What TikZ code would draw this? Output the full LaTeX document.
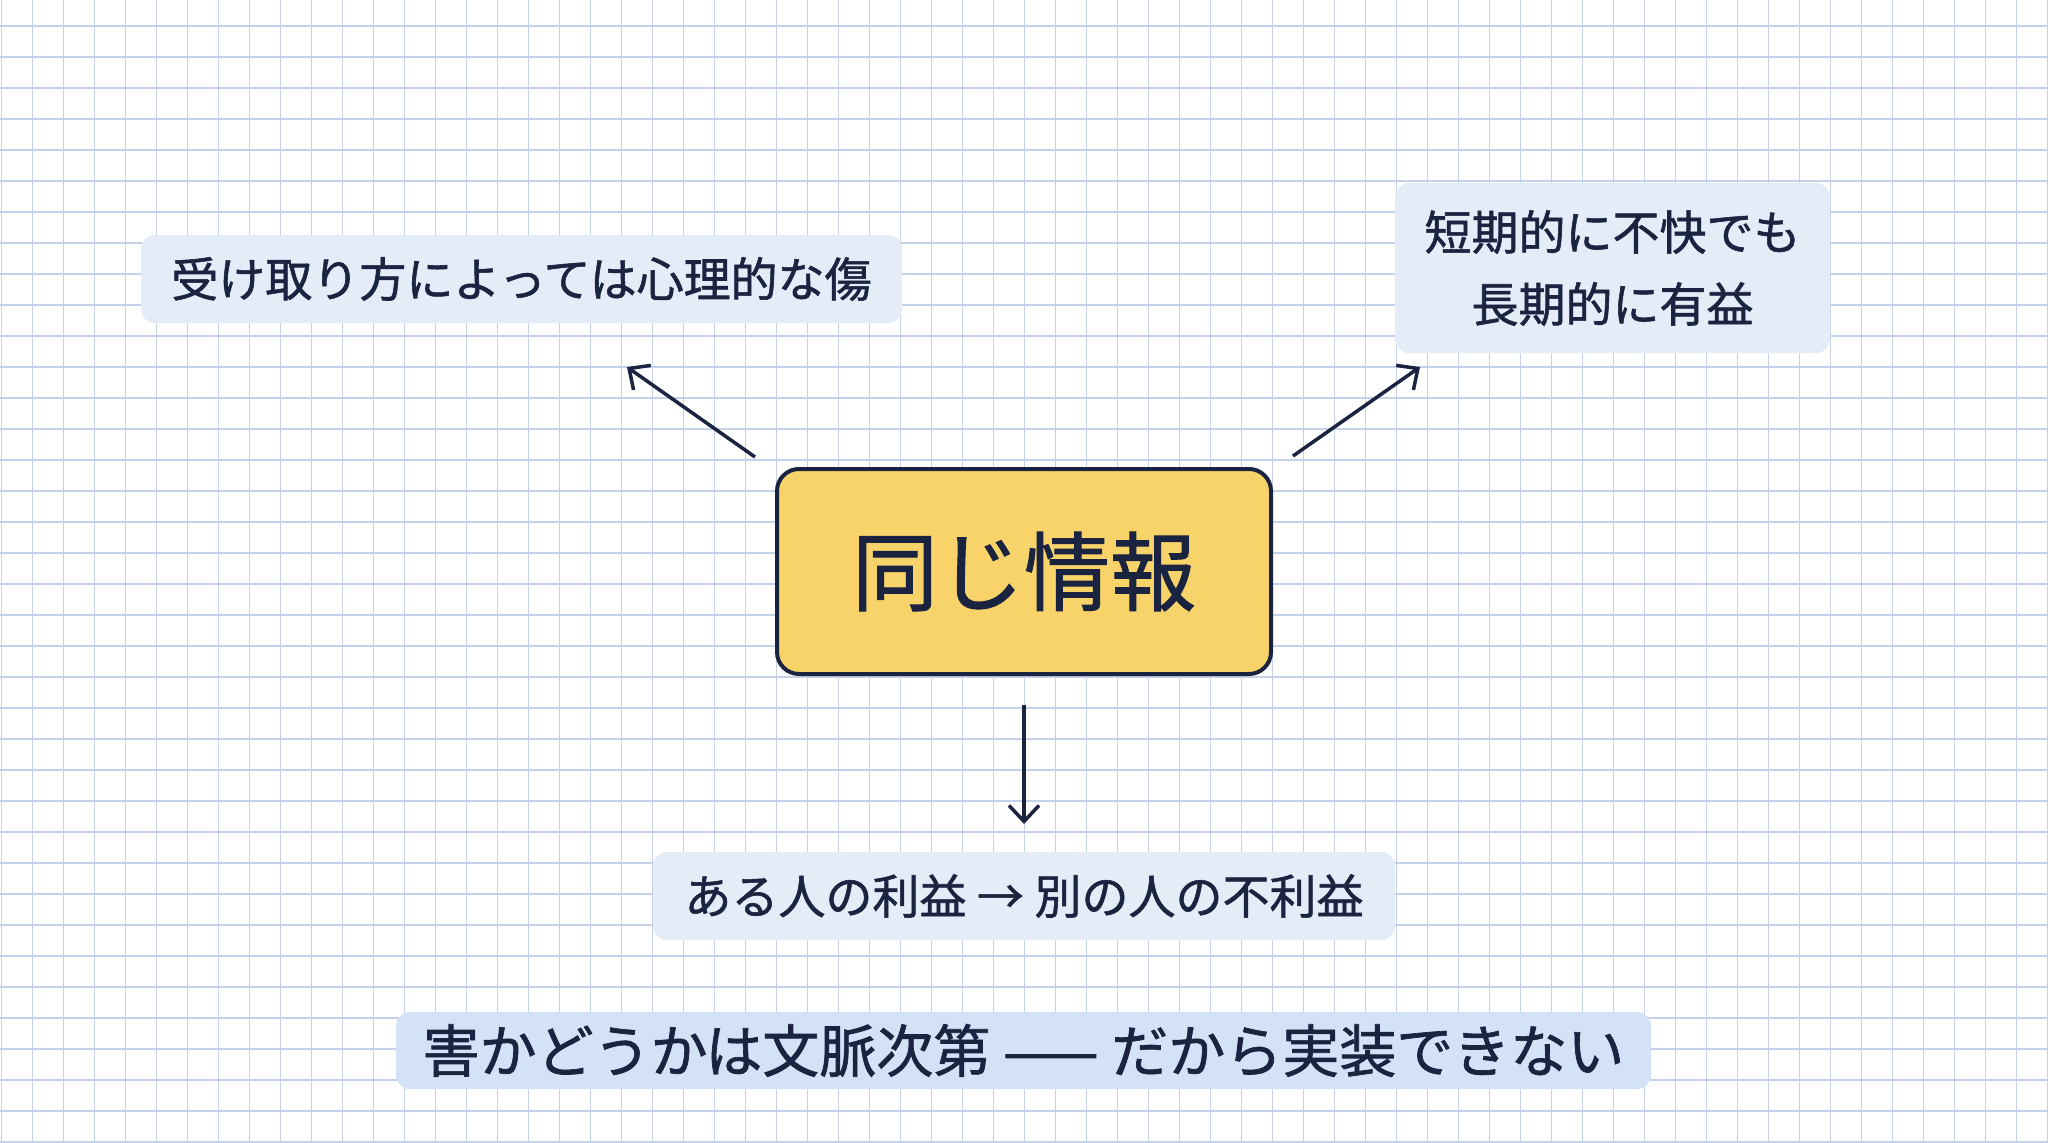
\documentclass[tikz,border=0pt]{standalone}
\usepackage{fontspec}
\setmainfont{Noto Sans CJK JP}
\newfontfamily\medf[FakeBold=1.2]{Noto Sans CJK JP}
\usetikzlibrary{arrows.meta}
\definecolor{navy}{HTML}{1A2440}
\definecolor{gridc}{HTML}{C3D2EA}
\definecolor{pale}{HTML}{E4ECF8}
\definecolor{band}{HTML}{D3E2F7}
\definecolor{gold}{HTML}{F8D36A}
\begin{document}
\begin{tikzpicture}[x=1pt,y=-1pt,
  soft/.style={fill=pale,rounded corners=14pt,text=navy,align=center,inner sep=0pt},
  arr/.style={draw=navy,line width=3.5pt,-{Straight Barb[length=16pt,width=30pt,line width=3.5pt]}}]
\useasboundingbox (0,0) rectangle (2048,1143);
\fill[white] (0,0) rectangle (2048,1143);
\foreach \i in {0,...,66} \draw[gridc,line width=1.6pt] (1.5+31*\i,0) -- (1.5+31*\i,1143);
\foreach \j in {0,...,36} \draw[gridc,line width=1.6pt] (0,26+31*\j) -- (2048,26+31*\j);
\node[soft,minimum width=761pt,minimum height=88pt,font=\medf\fontsize{47}{54}\selectfont] (tl) at (521.5,279) {受け取り方によっては心理的な傷};
\node[soft,minimum width=435pt,minimum height=170pt,font=\medf\fontsize{47}{72}\selectfont] (tr) at (1612.5,268) {短期的に不快でも\\長期的に有益};
\node[soft,minimum width=742pt,minimum height=88pt,font=\medf\fontsize{47}{54}\selectfont] (bt) at (1024,896) {ある人の利益 → 別の人の不利益};
\node[soft,fill=band,minimum width=1255pt,minimum height=77pt,font=\medf\fontsize{57}{64}\selectfont] (bn) at (1023.5,1050.5) {害かどうかは文脈次第 —— だから実装できない};
\node[draw=navy,line width=4pt,fill=gold,rounded corners=22pt,minimum width=494pt,minimum height=205pt,text=navy,font=\medf\fontsize{86}{94}\selectfont] (c) at (1024,571.5) {同じ情報};
\coordinate (a1) at (755,457); \coordinate (a2) at (627,367);
\coordinate (b1) at (1293,456); \coordinate (b2) at (1420,367);
\coordinate (d1) at (1024,705); \coordinate (d2) at (1024,824);
\draw[arr] (a1) -- (a2);
\draw[arr] (b1) -- (b2);
\draw[arr] (d1) -- (d2);
\end{tikzpicture}
\end{document}
